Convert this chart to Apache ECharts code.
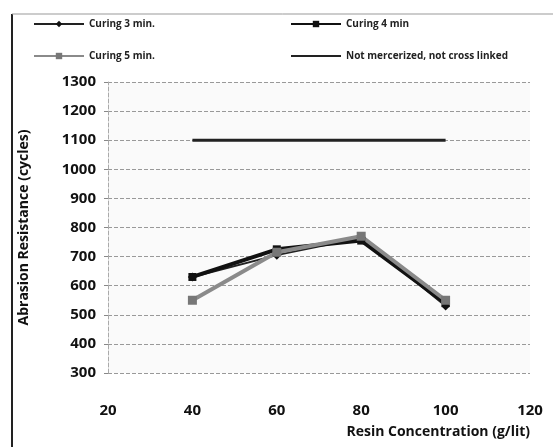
<!DOCTYPE html>
<html>
<head>
<meta charset="utf-8">
<script src="https://cdn.jsdelivr.net/npm/echarts@6/dist/echarts.min.js"></script>
<style>
    html, body { margin: 0; padding: 0; background: #fff; }
    #chart { width: 553px; height: 447px; }
</style>
</head>
<body>
<div id="chart"></div>
<script>
// resin concentration (g/lit)
const concentration = [40, 60, 80, 100];
const curing3 = [630, 705, 765, 530];
const curing4 = [630, 725, 755, 540];
const curing5 = [550, 715, 770, 550];
const notCrossLinked = [1100, 1100, 1100, 1100];

const xTicks = [20, 40, 60, 80, 100, 120];

const pairs = vals => concentration.map((c, i) => [c, vals[i]]);
const font = '"Open Sans", "Liberation Sans", sans-serif';
const legendText = { fontSize: 10, fontWeight: 'bold', color: '#222', fontFamily: font };

const chart = echarts.init(document.getElementById('chart'));
chart.setOption({
    backgroundColor: '#fff',
    animation: false,
    textStyle: { fontFamily: font },
    graphic: [
        { type: 'line', shape: { x1: 12, y1: 14, x2: 12, y2: 447 }, style: { stroke: '#222', lineWidth: 2 } },
        { type: 'line', shape: { x1: 12, y1: 14, x2: 553, y2: 14 }, style: { stroke: '#999', lineWidth: 1 } }
    ],
    legend: [
        {
            orient: 'vertical', left: 28, top: 14, itemGap: 22, itemWidth: 50, itemHeight: 8,
            data: ['Curing 3 min.', 'Curing 5 min.'],
            textStyle: legendText
        },
        {
            orient: 'vertical', left: 285, top: 14, itemGap: 22, itemWidth: 50, itemHeight: 8,
            data: ['Curing 4 min', { name: 'Not mercerized, not cross linked', itemStyle: { opacity: 0 } }],
            textStyle: legendText
        }
    ],
    grid: { left: 108, right: 23, top: 82, bottom: 74, backgroundColor: '#fafafa', show: true, borderWidth: 0 },
    xAxis: {
        type: 'value', min: 20, max: 120, interval: 20,
        name: 'Resin Concentration (g/lit)', nameLocation: 'end',
        nameGap: 0,
        nameTextStyle: { fontSize: 14, fontWeight: 'bold', color: '#111', align: 'right', verticalAlign: 'top', padding: [52, 0, 0, 0] },
        axisLine: { show: false },
        axisTick: { show: false },
        splitLine: { show: false },
        axisLabel: { fontSize: 15, fontWeight: 'bold', color: '#111', margin: 30,
            formatter: v => xTicks.includes(v) ? String(v) : '' }
    },
    yAxis: {
        type: 'value', min: 300, max: 1300, interval: 100,
        name: 'Abrasion Resistance (cycles)', nameLocation: 'middle', nameGap: 77,
        nameTextStyle: { fontSize: 14, fontWeight: 'bold', color: '#111' },
        axisLine: { show: true, lineStyle: { color: '#aaa', type: 'dashed' } },
        axisTick: { show: true, inside: false, length: 4, lineStyle: { color: '#888' } },
        splitLine: { lineStyle: { color: '#999', type: 'dashed', width: 1 } },
        axisLabel: { fontSize: 15, fontWeight: 'bold', color: '#111', margin: 12, formatter: v => String(v) }
    },
    series: [
        {
            name: 'Curing 3 min.', type: 'line', data: pairs(curing3),
            symbol: 'diamond', symbolSize: 9,
            lineStyle: { color: '#222', width: 2 }, itemStyle: { color: '#111' }
        },
        {
            name: 'Curing 4 min', type: 'line', data: pairs(curing4),
            symbol: 'rect', symbolSize: 8,
            lineStyle: { color: '#111', width: 4 }, itemStyle: { color: '#111' }
        },
        {
            name: 'Curing 5 min.', type: 'line', data: pairs(curing5),
            symbol: 'rect', symbolSize: 9,
            lineStyle: { color: '#8a8a8a', width: 4 }, itemStyle: { color: '#777' }
        },
        {
            name: 'Not mercerized, not cross linked', type: 'line', data: pairs(notCrossLinked),
            symbol: 'none',
            lineStyle: { color: '#222', width: 3 }, itemStyle: { color: '#222' }
        }
    ]
});
</script>
</body>
</html>
